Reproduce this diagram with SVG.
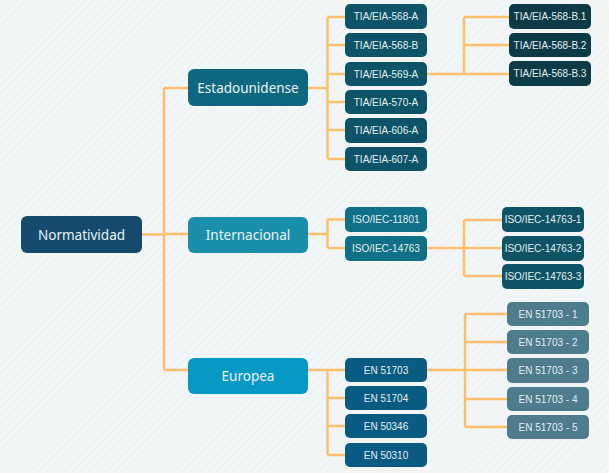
<svg xmlns="http://www.w3.org/2000/svg" width="609" height="473" viewBox="0 0 609 473">
<defs>
<pattern id="bg" width="6" height="6" patternUnits="userSpaceOnUse" patternTransform="rotate(45)">
<rect width="6" height="6" fill="#f3f6f6"/>
<line x1="0" y1="0" x2="0" y2="6" stroke="#e8eeee" stroke-width="1.5"/>
</pattern>
</defs>
<style>
.c{fill:none;stroke:#fdbf6c;stroke-width:2.5;stroke-linejoin:round}
.big{font-family:"Noto Sans","Liberation Sans",sans-serif;font-size:13.5px;fill:#e9f2f4;text-anchor:middle;dominant-baseline:central}
.sm{font-family:"Liberation Sans",sans-serif;font-size:10px;fill:#e4eef1;text-anchor:middle;dominant-baseline:central}
.root{fill:#164a6c}.us{fill:#0f6880}.int{fill:#1a8fa9}.eu{fill:#0898c5}
.t2{fill:#0e5468}.t3{fill:#0c3a47}.i2{fill:#107088}.i3{fill:#0e5466}.e2{fill:#0a5b82}.e3{fill:#4d7c8c}
</style>
<rect width="609" height="473" fill="url(#bg)"/>
<g id="connectors">
<path class="c" d="M142 234.5H164M164 88V370M164 88H188M164 234H188M164 370H188"/>
<path class="c" d="M308 88H327.5M327.5 17V159M327.5 17H345M327.5 45H345M327.5 74H345M327.5 102H345M327.5 130H345M327.5 159H345"/>
<path class="c" d="M427 74H509M464 17V74M464 17H509M464 45H509"/>
<path class="c" d="M308 234H327.5M327.5 219.5V248M327.5 219.5H345M327.5 248H345"/>
<path class="c" d="M427 248H502M464 220V276M464 220H502M464 276H502"/>
<path class="c" d="M308 370H345M327.5 370V455M327.5 398H345M327.5 426H345M327.5 455H345"/>
<path class="c" d="M427 370H507M465 314V427M465 314H507M465 342H507M465 399H507M465 427H507"/>
</g>
<g id="n-normatividad"><rect class="root" x="21" y="216" width="121" height="37" rx="6"/><text class="big" x="81.5" y="234.5">Normatividad</text></g>
<g id="n-estadounidense"><rect class="us" x="188" y="69" width="120" height="37" rx="6"/><text class="big" x="248" y="87.5">Estadounidense</text></g>
<g id="n-internacional"><rect class="int" x="188" y="217" width="120" height="36" rx="6"/><text class="big" x="248" y="235">Internacional</text></g>
<g id="n-europea"><rect class="eu" x="188" y="358" width="120" height="36" rx="6"/><text class="big" x="248" y="376">Europea</text></g>

<g id="n-tia568a"><rect class="t2" x="345" y="4" width="82" height="25" rx="5"/><text class="sm" x="386" y="16.5">TIA/EIA-568-A</text></g>
<g id="n-tia568b"><rect class="t2" x="345" y="33" width="82" height="24" rx="5"/><text class="sm" x="386" y="45">TIA/EIA-568-B</text></g>
<g id="n-tia569a"><rect class="t2" x="345" y="62" width="82" height="24" rx="5"/><text class="sm" x="386" y="74">TIA/EIA-569-A</text></g>
<g id="n-tia570a"><rect class="t2" x="345" y="90" width="82" height="24" rx="5"/><text class="sm" x="386" y="102">TIA/EIA-570-A</text></g>
<g id="n-tia606a"><rect class="t2" x="345" y="118" width="82" height="25" rx="5"/><text class="sm" x="386" y="130.5">TIA/EIA-606-A</text></g>
<g id="n-tia607a"><rect class="t2" x="345" y="147" width="82" height="24" rx="5"/><text class="sm" x="386" y="159">TIA/EIA-607-A</text></g>

<g id="n-tiab1"><rect class="t3" x="509" y="4" width="82" height="25" rx="5"/><text class="sm" x="550" y="16.5">TIA/EIA-568-B.1</text></g>
<g id="n-tiab2"><rect class="t3" x="509" y="33" width="82" height="24" rx="5"/><text class="sm" x="550" y="45">TIA/EIA-568-B.2</text></g>
<g id="n-tiab3"><rect class="t3" x="509" y="61" width="82" height="25" rx="5"/><text class="sm" x="550" y="73.5">TIA/EIA-568-B.3</text></g>

<g id="n-iso11801"><rect class="i2" x="345" y="207" width="82" height="25" rx="5"/><text class="sm" x="386" y="219.5">ISO/IEC-11801</text></g>
<g id="n-iso14763"><rect class="i2" x="345" y="236" width="82" height="25" rx="5"/><text class="sm" x="386" y="248.5">ISO/IEC-14763</text></g>

<g id="n-iso1"><rect class="i3" x="502" y="207" width="82" height="25" rx="5"/><text class="sm" x="543" y="219.5">ISO/IEC-14763-1</text></g>
<g id="n-iso2"><rect class="i3" x="502" y="236" width="82" height="25" rx="5"/><text class="sm" x="543" y="248.5">ISO/IEC-14763-2</text></g>
<g id="n-iso3"><rect class="i3" x="502" y="264" width="82" height="25" rx="5"/><text class="sm" x="543" y="276.5">ISO/IEC-14763-3</text></g>

<g id="n-en51703"><rect class="e2" x="345" y="358" width="82" height="24" rx="5"/><text class="sm" x="386" y="370">EN 51703</text></g>
<g id="n-en51704"><rect class="e2" x="345" y="386" width="82" height="24" rx="5"/><text class="sm" x="386" y="398">EN 51704</text></g>
<g id="n-en50346"><rect class="e2" x="345" y="414" width="82" height="24" rx="5"/><text class="sm" x="386" y="426">EN 50346</text></g>
<g id="n-en50310"><rect class="e2" x="345" y="443" width="82" height="24" rx="5"/><text class="sm" x="386" y="455">EN 50310</text></g>

<g id="n-en1"><rect class="e3" x="507" y="302" width="82" height="24" rx="5"/><text class="sm" x="548" y="314">EN 51703 - 1</text></g>
<g id="n-en2"><rect class="e3" x="507" y="330" width="82" height="24" rx="5"/><text class="sm" x="548" y="342">EN 51703 - 2</text></g>
<g id="n-en3"><rect class="e3" x="507" y="358" width="82" height="25" rx="5"/><text class="sm" x="548" y="370.5">EN 51703 - 3</text></g>
<g id="n-en4"><rect class="e3" x="507" y="387" width="82" height="24" rx="5"/><text class="sm" x="548" y="399">EN 51703 - 4</text></g>
<g id="n-en5"><rect class="e3" x="507" y="415" width="82" height="24" rx="5"/><text class="sm" x="548" y="427">EN 51703 - 5</text></g>
</svg>
